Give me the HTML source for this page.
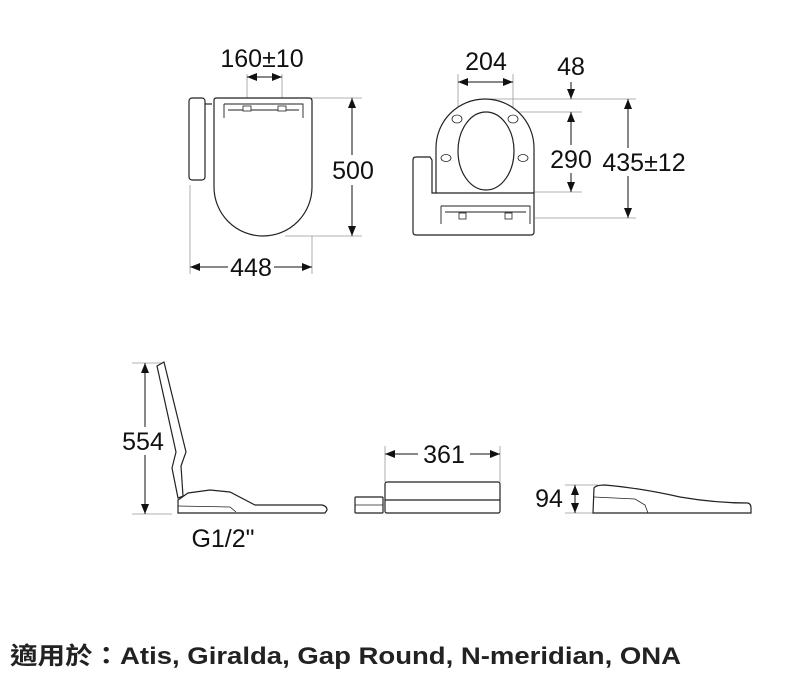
<!DOCTYPE html>
<html><head><meta charset="utf-8"><style>
html,body{margin:0;padding:0;background:#fff;}
svg{display:block}
.d{font-family:"Liberation Sans",sans-serif;font-size:25px;fill:#111}
</style></head><body>
<svg width="806" height="678" viewBox="0 0 806 678" xmlns="http://www.w3.org/2000/svg">
<defs>
<marker id="a" viewBox="0 0 10 10" refX="10" refY="5" markerWidth="10" markerHeight="10" markerUnits="userSpaceOnUse" orient="auto-start-reverse"><path d="M0,1 L10,5 L0,9 z" fill="#111"/></marker>
</defs>
<g fill="none" stroke="#999" stroke-width="0.8">
<!-- extension lines top-left -->
<line x1="247" y1="74" x2="247" y2="110"/><line x1="282" y1="74" x2="282" y2="110"/>
<line x1="305" y1="98" x2="362" y2="98"/><line x1="285" y1="236" x2="362" y2="236"/>
<line x1="190" y1="185" x2="190" y2="274"/><line x1="312" y1="236" x2="312" y2="274"/>
<!-- top-right -->
<line x1="458" y1="74" x2="458" y2="115"/><line x1="513" y1="74" x2="513" y2="115"/>
<line x1="490" y1="99" x2="636" y2="99"/><line x1="485" y1="112" x2="582" y2="112"/>
<line x1="530" y1="192" x2="582" y2="192"/><line x1="535" y1="218" x2="636" y2="218"/>
<!-- bottom -->
<line x1="132" y1="363" x2="162" y2="363"/><line x1="132" y1="514" x2="172" y2="514"/>
<line x1="385" y1="446" x2="385" y2="482"/><line x1="500" y1="446" x2="500" y2="482"/>
<line x1="565" y1="485" x2="598" y2="485"/><line x1="565" y1="513" x2="598" y2="513"/>
</g>
<g stroke="#111" stroke-width="1" fill="none">
<!-- dims -->
<line x1="247" y1="77" x2="282" y2="77" marker-start="url(#a)" marker-end="url(#a)"/>
<line x1="352" y1="98" x2="352" y2="236" marker-start="url(#a)" marker-end="url(#a)"/>
<line x1="190" y1="267" x2="312" y2="267" marker-start="url(#a)" marker-end="url(#a)"/>
<line x1="458" y1="82" x2="513" y2="82" marker-start="url(#a)" marker-end="url(#a)"/>
<line x1="571" y1="82" x2="571" y2="99" marker-end="url(#a)"/>
<line x1="571" y1="112" x2="571" y2="192" marker-start="url(#a)" marker-end="url(#a)"/>
<line x1="628" y1="99" x2="628" y2="218" marker-start="url(#a)" marker-end="url(#a)"/>
<line x1="145" y1="363" x2="145" y2="514" marker-start="url(#a)" marker-end="url(#a)"/>
<line x1="385" y1="454" x2="500" y2="454" marker-start="url(#a)" marker-end="url(#a)"/>
<line x1="575" y1="485" x2="575" y2="513" marker-start="url(#a)" marker-end="url(#a)"/>
</g>
<g stroke="#222" stroke-width="1.2" fill="#fff">
<!-- top-left view -->
<rect x="189" y="98" width="16" height="82" rx="3"/>
<path d="M205,104 L212,104"/>
<path d="M214,100 Q214,98 217,98 L309,98 Q312,98 312,101 L312,187 A49,49 0 0 1 214,187 Z"/>
<path d="M224,104 L303,104 L303,118 M224,104 L224,118 M228,110 L299,110" fill="none" stroke-width="0.9"/>
<rect x="243" y="106" width="8" height="5" stroke-width="0.8"/><rect x="278" y="106" width="8" height="5" stroke-width="0.8"/>
<!-- top-right view -->
<path d="M413,160 Q413,157 416,157 L430,157 L432,160 L432,193 L436,193 L436,148 A49,49 0 0 1 534,148 L534,232 Q534,235 531,235 L416,235 Q413,235 413,232 Z"/>
<line x1="436" y1="193" x2="534" y2="193"/>
<ellipse cx="486" cy="151" rx="28" ry="39"/>
<ellipse cx="457" cy="119" rx="5" ry="4" stroke-width="0.8"/><ellipse cx="513" cy="119" rx="5" ry="4" stroke-width="0.8"/>
<ellipse cx="446" cy="158" rx="5" ry="3.5" stroke-width="0.8"/><ellipse cx="523" cy="158" rx="5" ry="3.5" stroke-width="0.8"/>
<path d="M441,206 L530,206 L530,224 M441,206 L441,224 M445,212 L526,212" fill="none" stroke-width="0.9"/>
<rect x="459" y="213" width="7" height="6" stroke-width="0.8"/><rect x="505" y="213" width="7" height="6" stroke-width="0.8"/>
<!-- side view -->
<path d="M157,366 L164,362 L186,452 L181,466 L183,496 L178,498 L172,468 L176,452 Z"/>
<path d="M178,500 L188,493 L210,490 L230,492 L255,505 L322,505 Q327,506 327,510 L325,513 L178,513 Z"/>
<path d="M178,506 L230,507 L236,512" fill="none" stroke-width="0.8"/>
<!-- middle view -->
<rect x="385" y="482" width="115" height="31" rx="2"/>
<line x1="385" y1="500" x2="500" y2="500"/>
<rect x="355" y="497" width="28" height="16" rx="1"/>
<line x1="355" y1="505" x2="383" y2="505" stroke-width="0.8"/>
<!-- right view -->
<path d="M594,488 Q596,485 605,485 Q640,488 680,497 Q715,503 748,503 Q751,504 751,508 L751,513 L593,513 Z"/>
<path d="M594,497 L635,499 L645,505 L648,513" fill="none" stroke-width="0.8"/>
</g>
<g class="d" text-anchor="middle">
<text x="262" y="67">160±10</text>
<rect x="330" y="155" width="46" height="30" fill="#fff" stroke="none"/>
<text x="353" y="179">500</text>
<rect x="228" y="254" width="46" height="28" fill="#fff" stroke="none"/>
<text x="251" y="276">448</text>
<text x="486" y="70">204</text>
<text x="571" y="75">48</text>
<rect x="546" y="145" width="50" height="28" fill="#fff" stroke="none"/>
<text x="571" y="168">290</text>
<rect x="596" y="148" width="96" height="28" fill="#fff" stroke="none"/>
<text x="644" y="171">435±12</text>
<rect x="120" y="427" width="50" height="28" fill="#fff" stroke="none"/>
<text x="143" y="450">554</text>
<text x="223" y="547">G1/2"</text>
<rect x="418" y="440" width="52" height="28" fill="#fff" stroke="none"/>
<text x="444" y="463">361</text>
<text x="549" y="507">94</text>
</g>
<text x="10" y="664" textLength="671" lengthAdjust="spacingAndGlyphs" style="font-family:'Liberation Sans','Noto Sans CJK TC',sans-serif;font-weight:bold;font-size:24px;fill:#222">適用於：Atis, Giralda, Gap Round, N-meridian, ONA</text>
</svg>
</body></html>
